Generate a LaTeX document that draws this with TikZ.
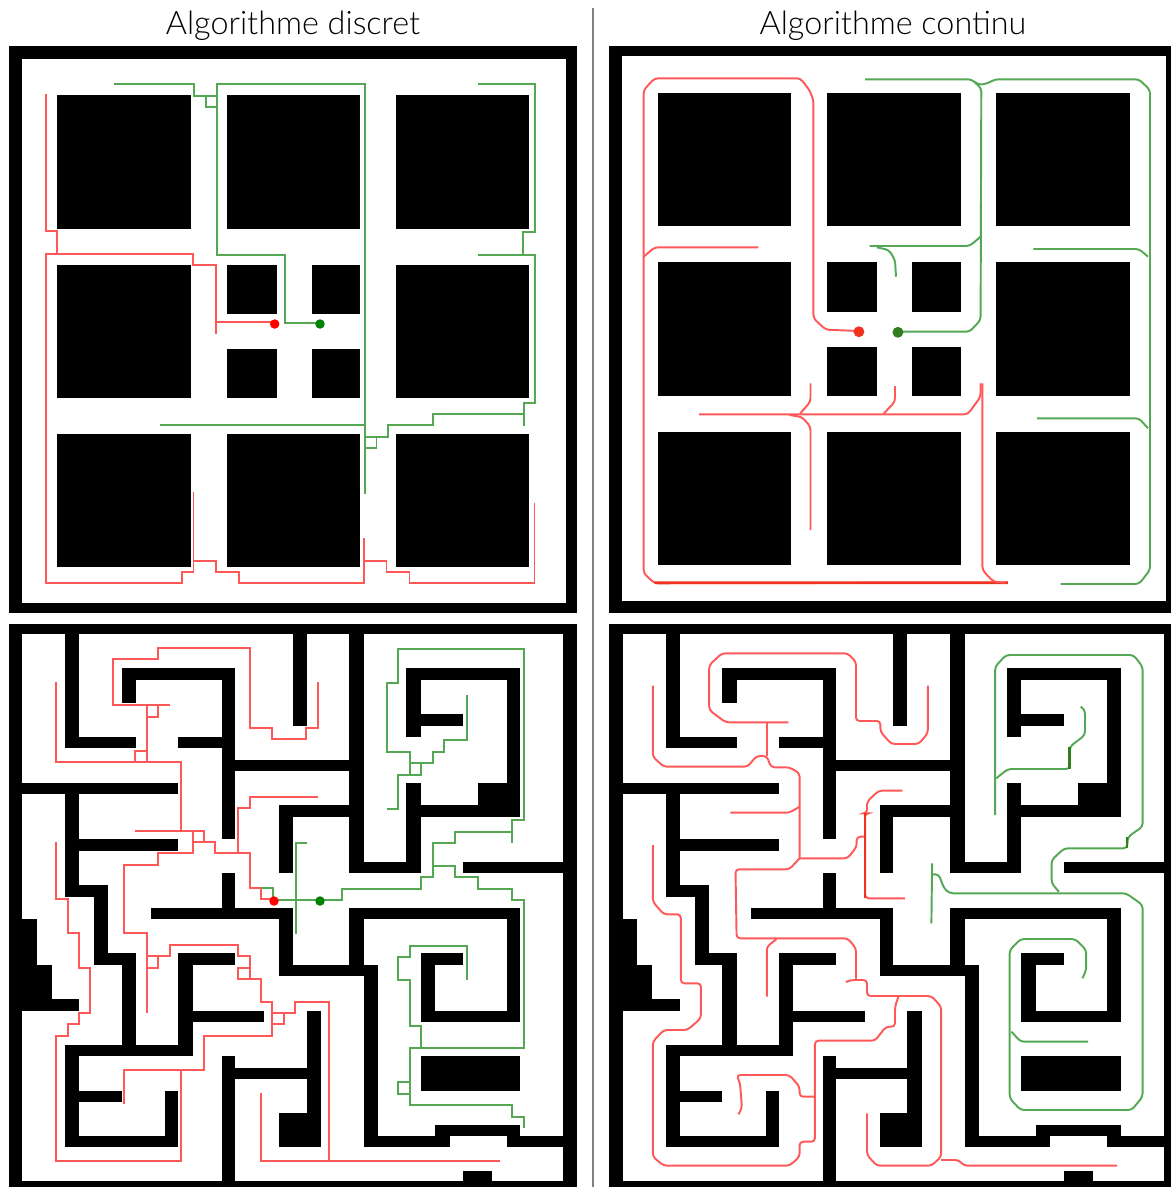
\documentclass[tikz,border=0pt]{standalone}
\usepackage{fontspec}
\newfontfamily\titlefont{Lato Light}
\definecolor{pathRed}{RGB}{255,88,88}
\definecolor{pathGreen}{RGB}{84,168,84}
\definecolor{dotRed}{RGB}{255,0,0}
\definecolor{dotGreen}{RGB}{0,128,0}
\definecolor{softRed}{RGB}{240,50,30}
\definecolor{softGreen}{RGB}{50,125,30}
\tikzset{
  panelTitle/.style={font=\titlefont\fontsize{18.4}{20}\selectfont,inner sep=0pt},
  redStep/.style={draw=pathRed,line width=0.95pt},
  greenStep/.style={draw=pathGreen,line width=0.95pt},
  redCurve/.style={draw=pathRed,line width=1.1pt,rounded corners=2pt},
  greenCurve/.style={draw=pathGreen,line width=1.1pt,rounded corners=2pt},
  redHeavy/.style={draw=softRed,line width=1.5pt},
  greenHeavy/.style={draw=softGreen,line width=1.5pt},
  startDot/.style={circle,inner sep=0pt,minimum size=5.4pt},
  softDot/.style={circle,inner sep=0pt,minimum size=6.2pt}
}
\newcommand{\blockset}{
\foreach \xa/\ya/\xb/\yb in {
  57.3/95.3/190.7/228.7, 226.7/95.3/360.3/228.7, 396/95.3/529.3/228.7,
  57.3/265/190.7/398.3, 396/265/529.3/398.3,
  226.7/265/276.7/314.3, 311.7/265/360.3/314.3,
  226.7/349.3/276.7/398.3, 311.7/349.3/360.3/398.3,
  57.3/434.3/190.7/567.3, 226.7/434.3/360.3/567.3, 396/434.3/529.3/567.3}
{
  \fill[black] (\xa,\ya) rectangle (\xb,\yb);
}
}
\newcommand{\mazewalls}{
\foreach \xa/\ya/\xb/\yb in {
  65/634/79.3/748.3, 65/736.7/136/748.3, 121.7/668.3/235.3/680,
  121.7/668.3/136/702.7, 222/668.3/235.3/839.3, 178.3/736.7/222/748.3,
  235.3/760/349.3/771, 22/782.7/178.3/794, 79.3/839.3/178.3/850.7,
  292.7/634/306.7/725.7, 349.3/634/364/873.3, 349.3/862.3/420.7/873.3,
  406.3/782.7/420.7/873.3, 406.3/805.3/520/816.7, 506.7/668.3/520/816.7,
  406.3/668.3/520/680, 406.3/668.3/420.7/736.7, 420.7/714.3/463.3/725.7,
  477.7/782.7/520/816.7, 463.3/862.3/563.3/873.3, 279/805.3/349.3/816.7,
  279/805.3/292.7/873.3, 222/873.3/235.3/908, 150.7/908/292.7/919.3,
  279/908/292.7/976, 279/965/378.3/976, 349.3/908/364/976,
  349.3/908/520/919.3, 506.7/908/520/1022, 420.7/1010.7/520/1022,
  420.7/953.3/435.3/1022, 420.7/953.3/463.3/965, 420.7/1056/520/1090.7,
  463.3/1170.7/492/1181, 222/1056/235.3/1181, 235.3/1067.7/306.7/1079,
  306.7/1010.7/321.3/1147.3, 279/1113.3/321.3/1147.3, 65/794/79.3/896.7,
  65/885.3/108.3/896.7, 364/965/378.3/1147.3, 364/1136/449.7/1147.3,
  435.3/1125/520/1136, 506.7/1136/563.3/1147.3, 22/919.3/36.7/1010.7,
  36.7/965/51.7/1010.7, 51.7/999/79.3/1010.7, 94/885.3/108.3/965,
  94/953.3/136/965, 121.7/953.3/136/1056, 65/1045/192.7/1056,
  65/1045/79.3/1147.3, 65/1136/178.3/1147.3, 165/1090.7/178.3/1147.3,
  79.3/1090.7/121.7/1101.7, 178.3/953.3/192.7/1056, 178.3/953.3/235.3/965,
  192.7/1010.7/264.3/1022}
{
  \fill[black] (\xa,\ya) rectangle (\xb,\yb);
}
}
\begin{document}
\begin{tikzpicture}[x=0.02cm,y=-0.02cm]
\useasboundingbox (0,0) rectangle (1171,1187);
\node[panelTitle] (titleDiscret) at (293,26) {Algorithme discret};
\node[panelTitle] (titleContinu) at (893,26) {Algorithme continu};
\draw[gray,line width=0.6pt] (593,8) -- (593,1187);

\fill[black] (9,46) rectangle (576.7,612.7);
\fill[white] (21.5,59) rectangle (565.7,603);
\fill[black] (609,46) rectangle (1171,612.7);
\fill[white] (621.5,56.3) rectangle (1165.5,600.7);
\fill[black] (9,624) rectangle (576.7,1187);
\fill[white] (22,634) rectangle (563.3,1181);
\fill[black] (609,624) rectangle (1171,1187);
\fill[white] (622.7,634) rectangle (1164,1181);

\blockset
\begin{scope}[shift={(600.2,-2.6)}]
\blockset
\end{scope}
\mazewalls
\begin{scope}[shift={(600.7,0)}]
\mazewalls
\end{scope}

\draw[redStep] (46,94.3) -- (46,231) -- (57,231) -- (57,253.7);
\draw[redStep] (216,334) -- (216,265.3) -- (193.3,265.3) -- (193.3,253.7) -- (46,253.7) -- (46,583.3) -- (181.8,583.3) -- (181.8,572) -- (193.5,572);
\draw[redStep] (216,322) -- (274.7,322);
\draw[redStep] (193.5,492.3) -- (193.5,572);
\draw[redStep] (193.5,560.7) -- (216,560.7) -- (216,572) -- (239,572) -- (239,583.3) -- (364,583.3) -- (364,537.7);
\draw[redStep] (364,560.7) -- (386.5,560.7) -- (386.5,572) -- (409.5,572) -- (409.5,583.3) -- (534.5,583.3) -- (534.5,503.3);
\draw[greenStep] (114.3,84.3) -- (194.3,84.3) -- (194.3,95.7) -- (217,95.7);
\draw[greenStep] (205.7,95.7) -- (205.7,107.3) -- (217,107.3);
\draw[greenStep] (320,323) -- (285,323) -- (285,255) -- (217,255) -- (217,84.3) -- (364.7,84.3) -- (364.7,493.7);
\draw[greenStep] (160,425.3) -- (364.7,425.3);
\draw[greenStep] (364.7,436.7) -- (387.7,436.7) -- (387.7,425.3) -- (433,425.3) -- (433,414) -- (524,414);
\draw[greenStep] (376.4,436.7) -- (376.4,448.3) -- (364.7,448.3);
\draw[greenStep] (524,425.7) -- (524,402.7) -- (535.2,402.7) -- (535.2,255) -- (478.3,255);
\draw[greenStep] (523.3,255) -- (523.3,232.3) -- (535.3,232.3) -- (535.3,84.3) -- (478.3,84.3);
\node[startDot,fill=dotRed] (startRedA) at (274.7,324) {};
\node[startDot,fill=dotGreen] (startGreenA) at (320,324) {};

\draw[redCurve] (858.9,331) -- (825.8,329.7) -- (813.4,318.3) -- (813.4,100) -- (809.4,90) -- (800.3,78.3) -- (654.6,78.3) -- (643.7,90) -- (643.7,573.3) -- (654.6,583.3) -- (1007.9,582.7);
\draw[redHeavy] (654.6,582.8) -- (1007.9,582.7);
\draw[redCurve] (643.7,256.7) -- (654.6,247.3) -- (758.4,247.3);
\draw[redCurve] (699,414.3) -- (967.8,414.3) -- (980.6,396.7) -- (980.6,383.3);
\draw[redCurve] (982.4,383.3) -- (982.4,570) -- (993.3,581.7) -- (1005,582.7);
\draw[redCurve] (800.3,413.3) -- (810.5,401.7) -- (810.5,383.3);
\draw[redCurve] (884,413.3) -- (895,401.7) -- (895,386);
\draw[redCurve] (789.4,415) -- (802,417) -- (810.5,426.7) -- (810.5,530);
\draw[greenCurve] (897.9,331.7) -- (969.6,331.7) -- (980.6,320) -- (981.3,88.3) -- (971.5,79.3) -- (865,79.3);
\draw[greenCurve] (975,82) -- (978.7,85) -- (987.8,83.3) -- (995.1,79.3) -- (1139,79.3) -- (1150,90) -- (1150,570) -- (1139,584) -- (1060.7,584);
\draw[greenCurve] (1148,256.7) -- (1139,249) -- (1033.4,249);
\draw[greenCurve] (1148,428.3) -- (1139,418.3) -- (1037,418.3);
\draw[greenCurve] (980.6,236.7) -- (969.6,246) -- (869.5,246);
\draw[greenCurve] (876.8,247.3) -- (889,250) -- (895,260) -- (896,276.7);
\node[softDot,fill=softRed] (startRedB) at (858.9,331.7) {};
\node[softDot,fill=softGreen] (startGreenB) at (897.9,332.3) {};

\draw[redStep] (56,682) -- (56,762.3) -- (181.3,762.3) -- (181.3,830.7);
\draw[redStep] (135.3,762.3) -- (135.3,751) -- (147,751) -- (147,762.3);
\draw[redStep] (147,762.3) -- (147,705);
\draw[redStep] (170.3,705) -- (113,705) -- (113,659.3) -- (158.3,659.3) -- (158.3,648.3) -- (249.7,648.3) -- (249.7,727.7) -- (272.3,727.7) -- (272.3,739.3) -- (306.3,739.3) -- (306.3,727.7) -- (318,727.7) -- (318,682);
\draw[redStep] (158.3,705) -- (158.3,716.7) -- (147,716.7);
\draw[redStep] (135.3,830.7) -- (204,830.7) -- (204,842) -- (192.7,842) -- (192.7,830.7);
\draw[redStep] (192.7,842) -- (192.7,853.3) -- (158.3,853.3) -- (158.3,865) -- (124.3,865) -- (124.3,933.3) -- (147,933.3) -- (147,1013.3);
\draw[redStep] (204,842) -- (215.3,842) -- (215.3,853.3) -- (249.7,853.3) -- (249.7,887.7) -- (261,887.7) -- (261,899) -- (274,899);
\draw[redStep] (238,853.3) -- (238,807.7) -- (249.7,807.7) -- (249.7,796.7) -- (318,796.7);
\draw[redStep] (56,841.7) -- (56,899) -- (67.7,899) -- (67.7,933.3) -- (79,933.3) -- (79,967.7) -- (90.3,967.7) -- (90.3,1013) -- (79,1013) -- (79,1024.3) -- (67.7,1024.3) -- (67.7,1035.7) -- (56,1035.7) -- (56,1161.3) -- (181.3,1161.3) -- (181.3,1070) -- (124.3,1070) -- (124.3,1104);
\draw[redStep] (181.3,1070) -- (204,1070) -- (204,1035.7) -- (272.3,1035.7) -- (272.3,1001.7) -- (261,1001.7) -- (261,979) -- (238,979) -- (238,967.7) -- (249.7,967.7) -- (249.7,956) -- (238,956) -- (238,944.7) -- (170,944.7) -- (170,956) -- (147,956);
\draw[redStep] (249.7,967.7) -- (249.7,979);
\draw[redStep] (147,967.7) -- (158.3,967.7) -- (158.3,956);
\draw[redStep] (272.3,1013) -- (295,1013) -- (295,1001.7) -- (329.3,1001.7) -- (329.3,1161.3);
\draw[redStep] (283.7,1013) -- (283.7,1024.3) -- (272.3,1024.3);
\draw[redStep] (260.7,1092.7) -- (260.7,1161.3) -- (500.3,1161.3);
\draw[greenStep] (261,887.7) -- (273.3,887.7) -- (273.3,900);
\draw[greenStep] (273.3,900) -- (341.7,900) -- (341.7,888.7) -- (421.3,888.7) -- (421.3,877.3) -- (432.7,877.3) -- (432.7,843.3) -- (455.3,843.3) -- (455.3,831.7) -- (512.3,831.7);
\draw[greenStep] (432.7,866) -- (455.3,866) -- (455.3,877.3) -- (478,877.3) -- (478,888.7) -- (512.3,888.7) -- (512.3,900) -- (523.7,900) -- (523.7,1048) -- (410,1048) -- (410,1105.3) -- (512.3,1105.3) -- (512.3,1116.7) -- (523.7,1116.7) -- (523.7,1128.3);
\draw[greenStep] (410,1082.3) -- (398.3,1082.3) -- (398.3,1093.7) -- (410,1093.7);
\draw[greenStep] (421.3,1048) -- (421.3,1025.7) -- (410,1025.7) -- (410,980) -- (398.3,980) -- (398.3,957) -- (410,957) -- (410,945.7) -- (466.7,945.7) -- (466.7,980);
\draw[greenStep] (307.3,842.7) -- (296,842.7) -- (296,934.3);
\draw[greenStep] (512.3,842.7) -- (512.3,820.3) -- (523.7,820.3) -- (523.7,649.3) -- (398.3,649.3) -- (398.3,683.3) -- (387,683.3) -- (387,752) -- (410,752) -- (410,774.7);
\draw[greenStep] (410,763.3) -- (432.7,763.3) -- (432.7,752) -- (444,752) -- (444,740.3) -- (466.7,740.3) -- (466.7,694.7);
\draw[greenStep] (421.3,763.3) -- (421.3,774.7) -- (398.3,774.7) -- (398.3,809) -- (387,809);
\node[startDot,fill=dotRed] (startRedC) at (274,901) {};
\node[startDot,fill=dotGreen] (startGreenC) at (320,901) {};

\draw[redCurve] (652.8,685.7) -- (652.8,756.7) -- (663.7,766.7) -- (747.5,766.7) -- (756.6,756) -- (766.8,756) -- (771,767.3) -- (789.4,767.3) -- (799.6,773.3) -- (799.6,858.3);
\draw[redCurve] (766.8,756) -- (766.8,722.3);
\draw[redCurve] (788.3,722.3) -- (725.6,722.3) -- (709.2,710) -- (709.2,665) -- (722,653.3) -- (847.6,653.3) -- (856,661.7) -- (856,721) -- (880.4,721) -- (880.4,731.7) -- (891.3,744) -- (918.6,744) -- (927.8,733.3) -- (927.8,685.7);
\draw[redCurve] (730.4,812.7) -- (789.4,812.7) -- (799.6,806.7);
\draw[redCurve] (799.6,858.3) -- (847.6,858.3) -- (856.7,846.7) -- (856.7,836.7) -- (865.1,836.7);
\draw[redCurve] (904.8,898.3) -- (865.1,898.3) -- (865.1,813.3) -- (867,813.3) -- (867,801.7) -- (878.6,790.7) -- (902.3,790.7);
\draw[redCurve] (799.6,858.3) -- (789.4,869.3) -- (735.5,869.3) -- (736.6,938.3) -- (847.6,938.3) -- (856,948.3) -- (856,980);
\draw[redCurve] (845.8,982) -- (851,980) -- (867,980) -- (867,996) -- (931.4,996) -- (941.2,1006.7) -- (941.2,1156.7) -- (931.4,1165.7) -- (876.8,1165.7) -- (867,1155) -- (867,1113.3);
\draw[redCurve] (941.2,1160) -- (958.7,1160) -- (964.2,1165.7) -- (1117.1,1165.7);
\draw[redCurve] (898.6,996) -- (895,1006.7) -- (895,1026.7) -- (885.9,1026.7) -- (875,1040.7) -- (814.9,1040.7) -- (814.9,1141.7) -- (799.6,1141.7) -- (799.6,1156.7) -- (789.4,1165.7) -- (663.7,1165.7) -- (652.8,1156.7) -- (652.8,1041.7) -- (663.7,1030) -- (687.4,1030) -- (700.9,1018.3) -- (700.9,983.3) -- (680.8,983.3) -- (680.8,914.3) -- (663.7,914.3) -- (652.8,901.7) -- (652.8,845);
\draw[redCurve] (766.8,996.7) -- (766.8,946.7) -- (776.6,939);
\draw[redCurve] (814.9,1096.7) -- (799.6,1096.7) -- (799.6,1086.7) -- (789.4,1075) -- (736.6,1075) -- (740,1083.3) -- (742,1108) -- (738.4,1114.3);
\draw[greenCurve] (995.1,815) -- (995.1,666.7) -- (1006,655) -- (1133.5,655) -- (1142.6,666.7) -- (1142.6,826.7) -- (1128,836.7) -- (1127,848.3) -- (1064.3,848.3) -- (1051.6,860) -- (1051.6,883.3) -- (1058.9,891.7);
\draw[greenCurve] (932.1,863.3) -- (931.4,923.3);
\draw[greenCurve] (932.1,874.3) -- (938.7,874.3) -- (944,888.3) -- (949.6,893.3) -- (1126.2,893.3) -- (1142.6,905) -- (1142.6,1096.7) -- (1131.7,1110) -- (1020.6,1110) -- (1009.7,1098.3) -- (1009.7,950) -- (1020.6,939) -- (1075.2,939) -- (1086.2,950) -- (1086.2,970) -- (1082.5,978.3);
\draw[greenCurve] (1011.5,1031.7) -- (1020.6,1041.7) -- (1088,1041.7);
\draw[greenCurve] (996.2,778.3) -- (1007.9,769) -- (1069.8,769) -- (1069.8,746.7) -- (1085,735) -- (1085,710) -- (1080.7,706.7);
\draw[greenHeavy] (1069.8,769) -- (1069.8,746.7);
\draw[greenHeavy] (1127,836.7) -- (1127,848.3);
\draw[redHeavy] (865.1,813.3) -- (865.1,898.3);
\end{tikzpicture}
\end{document}
